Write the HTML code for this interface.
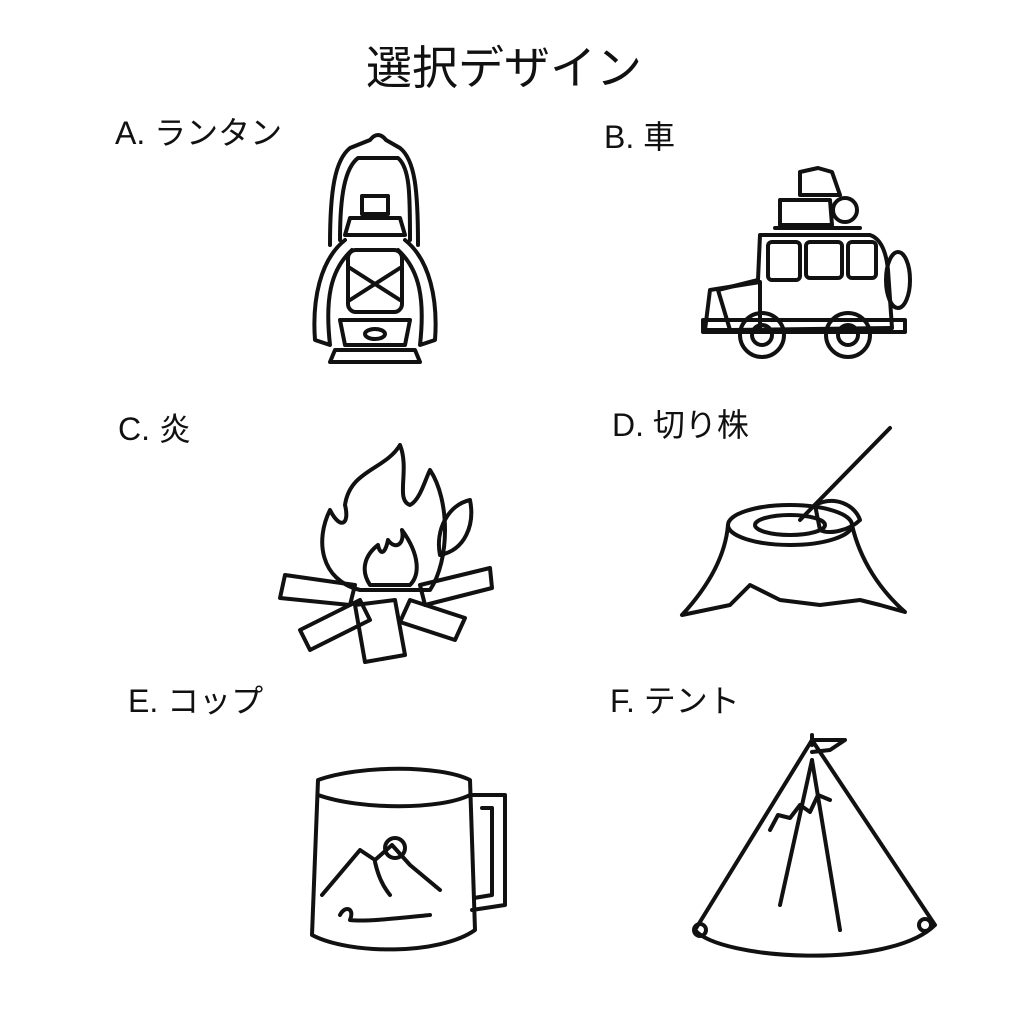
<!DOCTYPE html>
<html><head><meta charset="utf-8"><style>
html,body{margin:0;padding:0;background:#fff;}
body{width:1024px;height:1024px;position:relative;overflow:hidden;font-family:"Liberation Sans","Noto Sans CJK JP",sans-serif;}
.t{position:absolute;color:#111;white-space:nowrap;}
</style></head><body>
<div class="t" style="left:366px;top:32px;font-size:46px;">選択デザイン</div>
<div class="t" style="left:115px;top:108px;font-size:32px;">A. ランタン</div>
<div class="t" style="left:604px;top:112px;font-size:32px;">B. 車</div>
<div class="t" style="left:118px;top:404px;font-size:32px;">C. 炎</div>
<div class="t" style="left:612px;top:400px;font-size:32px;">D. 切り株</div>
<div class="t" style="left:128px;top:676px;font-size:32px;">E. コップ</div>
<div class="t" style="left:610px;top:676px;font-size:32px;">F. テント</div>
<svg width="1024" height="1024" style="position:absolute;left:0;top:0" fill="none" stroke="#111" stroke-width="4" stroke-linecap="round" stroke-linejoin="round">
<!-- lantern -->
<path d="M330 245 C330 190 335 160 350 148 L370 140 Q378 130 386 140 L400 148 C415 160 418 190 418 245"/>
<path d="M340 240 C340 195 345 168 358 158 L398 158 C410 168 410 195 410 240"/>
<rect x="362" y="196" width="26" height="18"/>
<path d="M350 218 L400 218 L405 235 L345 235 Z"/>
<path d="M345 240 C320 260 312 300 315 340 L330 345 C325 300 330 270 352 250"/>
<path d="M405 240 C430 260 438 300 435 340 L420 345 C425 300 420 270 398 250"/>
<rect x="348" y="250" width="54" height="62" rx="8"/>
<path d="M350 268 L400 300 M400 268 L350 300"/>
<path d="M340 320 L410 320 L405 345 L345 345 Z"/>
<ellipse cx="375" cy="334" rx="10" ry="5"/>
<path d="M335 350 L415 350 L420 362 L330 362 Z"/>
<!-- car -->
<path d="M800 172 L818 168 L832 172 L840 195 L800 195 Z"/>
<path d="M780 200 L830 200 L832 225 L780 225 Z"/>
<circle cx="845" cy="210" r="12"/>
<path d="M775 228 L860 228"/>
<path d="M760 235 L870 235 Q885 240 888 270 L892 328 L730 330 L718 290 L758 280 Z"/>
<rect x="768" y="242" width="32" height="38" rx="4"/>
<rect x="806" y="242" width="36" height="36" rx="4"/>
<rect x="848" y="242" width="28" height="36" rx="4"/>
<path d="M710 290 L760 282 L760 330 L705 330 Z"/>
<path d="M703 320 L905 320 L905 332 L703 332 Z"/>
<ellipse cx="898" cy="280" rx="12" ry="28"/>
<circle cx="762" cy="335" r="22"/><circle cx="762" cy="335" r="10"/>
<circle cx="848" cy="335" r="22"/><circle cx="848" cy="335" r="10"/>
<!-- fire -->
<path d="M360 590 C320 580 315 540 330 510 C340 530 350 525 345 505 C350 470 385 470 400 445 C410 470 395 500 410 505 C420 500 425 480 430 470 C450 500 450 560 430 590 Z"/>
<path d="M370 585 C360 570 365 555 378 545 C380 555 385 555 388 540 C395 550 405 545 402 530 C420 555 420 575 410 585 Z"/>
<path d="M440 555 C435 530 448 505 470 500 C475 525 465 550 440 555 Z"/>
<path d="M285 575 L355 585 L350 605 L280 598 Z"/>
<path d="M420 585 L490 568 L492 588 L425 605 Z"/>
<path d="M300 630 L360 600 L370 620 L310 650 Z"/>
<path d="M355 605 L395 600 L405 655 L365 662 Z"/>
<path d="M410 600 L465 618 L455 640 L400 622 Z"/>
<!-- stump -->
<ellipse cx="790" cy="525" rx="62" ry="20"/>
<ellipse cx="790" cy="525" rx="35" ry="10"/>
<path d="M728 525 C725 560 705 590 682 615 L730 605 L750 585 L780 600 L820 605 L860 600 L880 605 L905 612 C880 590 860 560 852 525"/>
<path d="M800 520 L890 428"/>
<path d="M815 505 C835 495 855 505 860 520 C850 530 830 535 820 530 Z"/>
<!-- mug -->
<path d="M318 780 C360 765 440 765 470 780 L475 930 C440 955 350 955 312 935 Z"/>
<path d="M318 795 C360 810 440 810 470 795"/>
<path d="M470 795 L505 795 L505 905 L472 910"/>
<path d="M482 808 L492 808 L492 895 L474 898"/>
<path d="M322 895 L360 850 L375 860 L392 845 L410 865 L440 890"/>
<path d="M375 862 C378 875 382 885 390 895"/>
<circle cx="395" cy="848" r="10"/>
<path d="M340 915 C345 905 355 908 350 920 C365 922 400 918 430 915"/>
<!-- tent -->
<path d="M812 740 L695 930 C720 960 890 970 935 925 Z"/>
<path d="M812 740 L812 745 M812 740 L812 735"/>
<path d="M812 740 L845 740 L830 750 L812 752"/>
<path d="M812 760 L780 905 M812 760 L840 930"/>
<path d="M770 830 L778 815 L790 818 L800 805 L810 812 L818 795 L830 800"/>
<circle cx="700" cy="930" r="6"/><circle cx="925" cy="925" r="6"/>
</svg>
</body></html>
